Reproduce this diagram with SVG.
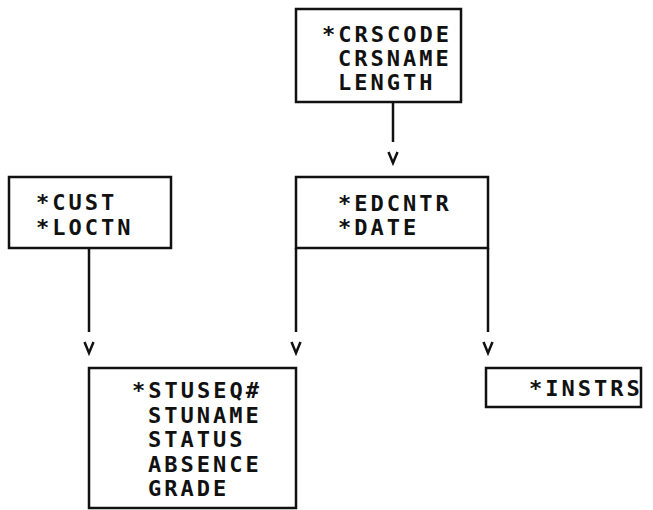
<svg xmlns="http://www.w3.org/2000/svg" width="653" height="510" viewBox="0 0 653 510">
  <style>
    .box { fill: #ffffff; stroke: #111111; stroke-width: 2.5; }
    .lbl { font-family: "DejaVu Sans Mono", "Liberation Mono", monospace; font-size: 22px; font-weight: bold; letter-spacing: 3px; fill: #111111; }
    .link { fill: none; stroke: #111111; stroke-width: 2.5; marker-end: url(#vee); }
  </style>
  <defs>
    <!-- open "v" head, set a little below the end of each line -->
    <marker id="vee" markerUnits="userSpaceOnUse" orient="auto" refX="0" refY="0" overflow="visible" markerWidth="30" markerHeight="20">
      <path d="M10,-4.5 L21,0 L10,4.5" fill="none" stroke="#111111" stroke-width="2.5"/>
    </marker>
  </defs>
  <rect width="653" height="510" fill="#ffffff"/>

  <g id="connectors">
    <line class="link" x1="393" y1="102" x2="393" y2="142"/>
    <line class="link" x1="89" y1="248" x2="89" y2="332"/>
    <line class="link" x1="296" y1="248" x2="296" y2="332"/>
    <line class="link" x1="488" y1="248" x2="488" y2="332"/>
  </g>

  <g id="course">
    <rect class="box" x="296" y="9" width="165" height="93"/>
    <text class="lbl" x="322" y="42">*CRSCODE</text>
    <text class="lbl" x="338" y="66">CRSNAME</text>
    <text class="lbl" x="338" y="90">LENGTH</text>
  </g>

  <g id="customer">
    <rect class="box" x="9" y="177" width="162" height="71"/>
    <text class="lbl" x="36" y="210">*CUST</text>
    <text class="lbl" x="36" y="235">*LOCTN</text>
  </g>

  <g id="offering">
    <rect class="box" x="296" y="177" width="192" height="71"/>
    <text class="lbl" x="338" y="211">*EDCNTR</text>
    <text class="lbl" x="338" y="235">*DATE</text>
  </g>

  <g id="student">
    <rect class="box" x="89" y="368" width="207" height="140"/>
    <text class="lbl" x="132" y="398">*STUSEQ#</text>
    <text class="lbl" x="148" y="422.5">STUNAME</text>
    <text class="lbl" x="148" y="447">STATUS</text>
    <text class="lbl" x="148" y="471.5">ABSENCE</text>
    <text class="lbl" x="148" y="496">GRADE</text>
  </g>

  <g id="instructor">
    <rect class="box" x="486" y="368" width="155" height="39"/>
    <text class="lbl" x="529" y="396">*INSTRS</text>
  </g>
</svg>
